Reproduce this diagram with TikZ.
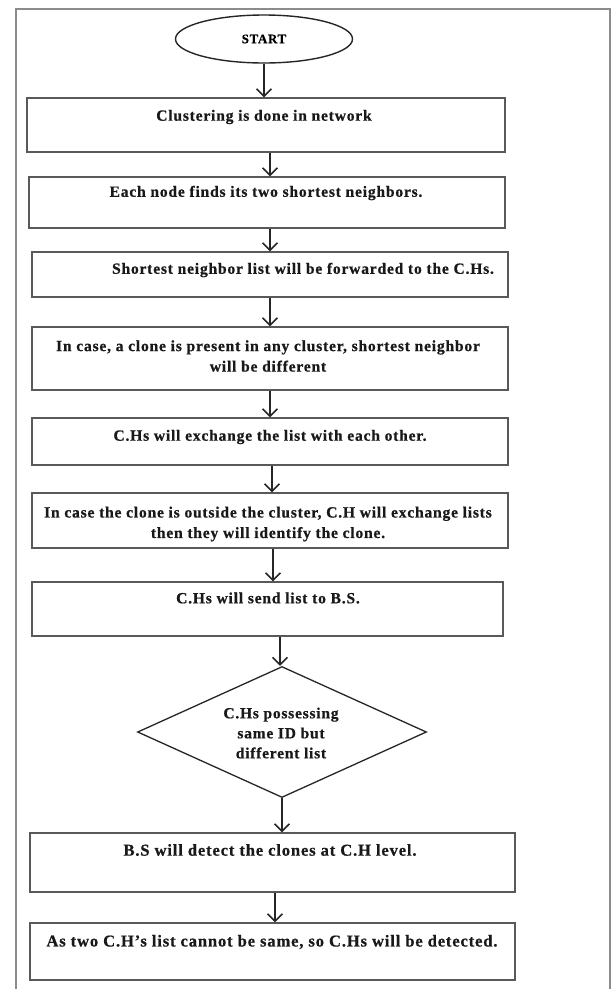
\documentclass[tikz,border=0pt]{standalone}
\usepackage{fontspec}
\setmainfont{Liberation Serif}[LetterSpace=5, BoldFeatures={FakeBold=0.6}]
\usetikzlibrary{shapes.geometric,arrows.meta}
\begin{document}
\begin{tikzpicture}[x=1pt,y=-1pt,
  boxst/.style={draw=black!65, line width=1.3pt, rectangle, inner sep=0pt},
  txt/.style={font=\bfseries\fontsize{15.6}{20.5}\selectfont, align=center, inner sep=0pt, text=black!90},
  bigtxt/.style={txt, font=\bfseries\fontsize{16.6}{21}\selectfont},
  arr/.style={draw=black!85, line width=1.5pt, -{Straight Barb[length=7.5pt,width=15pt]}},
  frame/.style={draw=black!45, line width=1.6pt}
]
\useasboundingbox (0,0) rectangle (616,989);
\fill[white] (0,0) rectangle (616,989);
% outer frame
\coordinate (fbl) at (16,989);
\coordinate (ftl) at (16,9);
\coordinate (ftr) at (610,9);
\coordinate (fbr) at (610,989);
\draw[frame] (fbl) -- (ftl) -- (ftr) -- (fbr);

% start
\node[ellipse, draw=black!85, line width=1.4pt, minimum width=177pt, minimum height=48pt, inner sep=0pt,
  font=\bfseries\fontsize{13}{15}\selectfont] (start) at (264,39) {START};

% boxes
\node[boxst, minimum width=478pt, minimum height=54pt] (b1) at (266,125) {};
\node[txt] (t1) at (264,117) {Clustering is done in network};

\node[boxst, minimum width=476pt, minimum height=51pt] (b2) at (267,202.5) {};
\node[txt] (t2) at (266,193) {Each node finds its two shortest neighbors.};

\node[boxst, minimum width=476pt, minimum height=45pt] (b3) at (270,274.5) {};
\node[txt] (t3) at (303,270) {Shortest neighbor list will be forwarded to the C.Hs.};

\node[boxst, minimum width=476pt, minimum height=63pt] (b4) at (270,358.5) {};
\node[txt] (t4) at (268,356) {In case, a clone is present in any cluster, shortest neighbor\\will be different};

\node[boxst, minimum width=476pt, minimum height=47pt] (b5) at (270,441.5) {};
\node[txt] (t5) at (270,437) {C.Hs will exchange the list with each other.};

\node[boxst, minimum width=476pt, minimum height=55pt] (b6) at (270,520.5) {};
\node[txt] (t6) at (268,524) {In case the clone is outside the cluster, C.H will exchange lists\\then they will identify the clone.};

\node[boxst, minimum width=471pt, minimum height=54pt] (b7) at (267.5,609) {};
\node[txt] (t7) at (268,598) {C.Hs will send list to B.S.};

\node[diamond, draw=black!85, line width=1.3pt, minimum width=289pt, minimum height=131pt, inner sep=0pt] (d) at (282,732) {};
\node[txt, font=\bfseries\fontsize{15.5}{20}\selectfont] (td) at (281,733) {C.Hs possessing\\same ID but\\different list};

\node[boxst, minimum width=485pt, minimum height=59pt] (b8) at (272.5,862.5) {};
\node[bigtxt] (t8) at (270,850) {B.S will detect the clones at C.H level.};

\node[boxst, minimum width=485pt, minimum height=57pt] (b9) at (272.5,951.5) {};
\node[bigtxt] (t9) at (272,942) {As two C.H's list cannot be same, so C.Hs will be detected.};

% arrows
\draw[arr] (start.south) -- ([xshift=-2pt]b1.north);
\draw[arr] ([xshift=4pt]b1.south) -- ([xshift=3pt]b2.north);
\draw[arr] ([xshift=3pt]b2.south) -- (b3.north);
\draw[arr] (b3.south) -- (b4.north);
\draw[arr] (b4.south) -- (b5.north);
\draw[arr] ([xshift=2pt]b5.south) -- ([xshift=2pt]b6.north);
\draw[arr] ([xshift=3pt]b6.south) -- ([xshift=5.5pt]b7.north);
\draw[arr] ([xshift=12.5pt]b7.south) -- ([xshift=-2pt]d.north);
\draw[arr] (d.south) -- ([xshift=9.5pt]b8.north);
\draw[arr] ([xshift=2.5pt]b8.south) -- ([xshift=2.5pt]b9.north);
\end{tikzpicture}
\end{document}
